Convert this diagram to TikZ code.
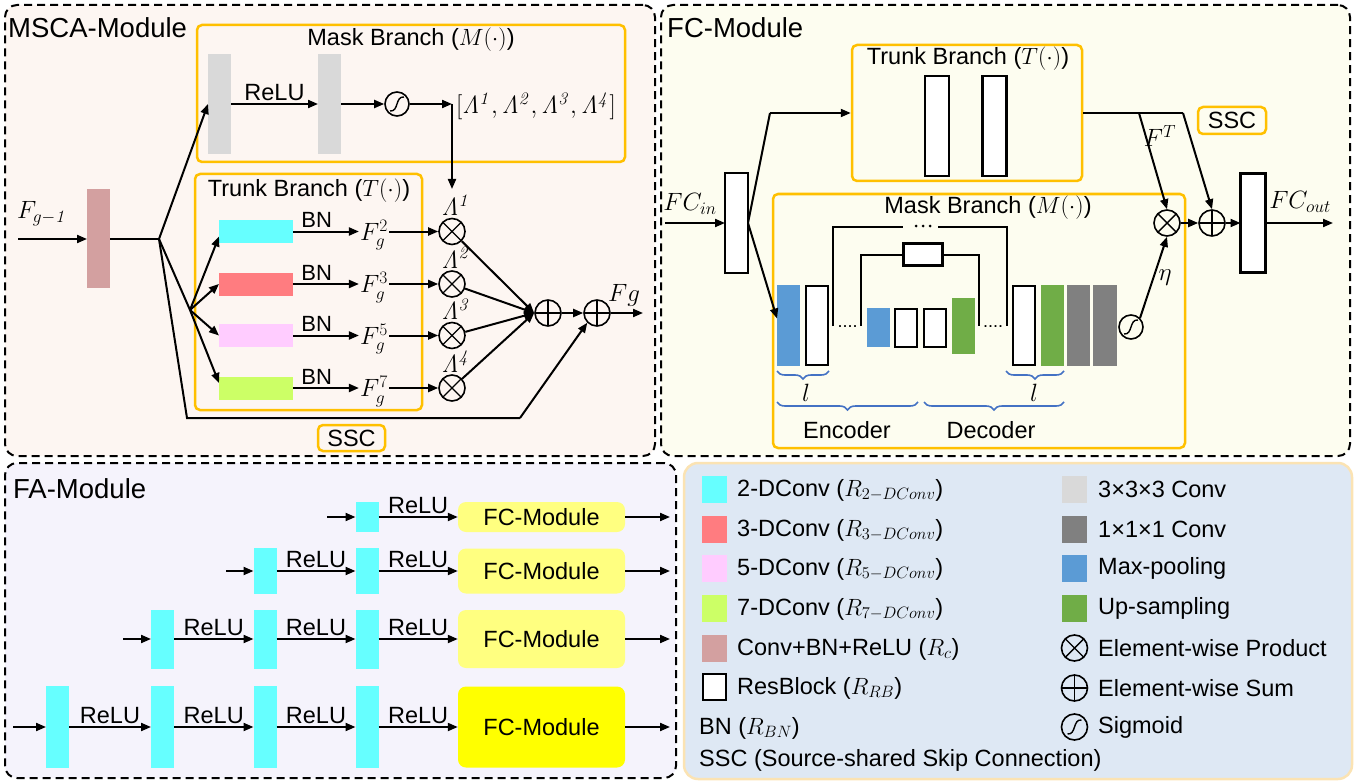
\documentclass[tikz,border=0pt]{standalone}
\usepackage{fix-cm}
\usepackage[no-math]{fontspec}
\setmainfont{Liberation Sans}
\usetikzlibrary{arrows.meta,decorations.pathreplacing,calc}
\definecolor{mscafill}{HTML}{FDF6F2}
\definecolor{fcfill}{HTML}{FDFDF0}
\definecolor{fafill}{HTML}{F5F3FC}
\definecolor{legfill}{HTML}{DEE8F4}
\definecolor{legdraw}{HTML}{FBE3B3}
\definecolor{orng}{HTML}{FFC000}
\definecolor{cyanc}{HTML}{66FFFF}
\definecolor{redc}{HTML}{FF7C80}
\definecolor{pinkc}{HTML}{FFCCFF}
\definecolor{limec}{HTML}{CCFF66}
\definecolor{brownc}{HTML}{D3A0A0}
\definecolor{lgray}{HTML}{D9D9D9}
\definecolor{dgray}{HTML}{808080}
\definecolor{bluec}{HTML}{5B9BD5}
\definecolor{greenc}{HTML}{70AD47}
\definecolor{lyel}{HTML}{FFFF80}
\definecolor{yel}{HTML}{FFFF00}
\definecolor{bracec}{HTML}{4472C4}
\tikzset{
  lw/.style={line width=2pt},
  arr/.style={line width=2pt,-{Triangle[length=10pt,width=8pt]}},
  tx/.style={font=\fontsize{23.5}{27}\selectfont, inner sep=2pt},
  bn/.style={font=\fontsize{22}{26}\selectfont, inner sep=3pt},
  mt/.style={font=\fontsize{25}{29}\selectfont, inner sep=1pt},
  ttl/.style={font=\fontsize{27.5}{31}\selectfont, inner sep=0pt},
  lt/.style={font=\fontsize{23.5}{27}\selectfont, inner sep=0pt},
  dbox/.style={draw, line width=2pt, dash pattern=on 8pt off 5pt, rounded corners=12pt, inner sep=0pt},
  legbox/.style={draw=legdraw, fill=legfill, line width=2.5pt, rounded corners=14pt, inner sep=0pt},
  obox/.style={draw=orng, line width=2.5pt, rounded corners=5pt, inner sep=0pt},
  blk/.style={rectangle, inner sep=0pt, outer sep=0pt},
  wblk/.style={blk, draw, line width=2.2pt, fill=white},
  fcb/.style={rectangle, rounded corners=8pt, inner sep=0pt, font=\fontsize{23.5}{27}\selectfont},
  prod/.style={circle, draw, line width=1.6pt, minimum size=26pt, inner sep=0pt,
    path picture={\draw[line width=1.4pt] (path picture bounding box.north west) -- (path picture bounding box.south east) (path picture bounding box.north east) -- (path picture bounding box.south west);}},
  summ/.style={circle, draw, line width=1.6pt, minimum size=26pt, inner sep=0pt,
    path picture={\draw[line width=1.4pt] (path picture bounding box.north) -- (path picture bounding box.south) (path picture bounding box.east) -- (path picture bounding box.west);}},
  sigm/.style={circle, draw, line width=1.6pt, minimum size=24pt, inner sep=0pt,
    path picture={\draw[line width=1.4pt] ([xshift=-7pt,yshift=-7pt]path picture bounding box.center) .. controls ([xshift=2pt,yshift=-8pt]path picture bounding box.center) and ([xshift=-2pt,yshift=8pt]path picture bounding box.center) .. ([xshift=7pt,yshift=7pt]path picture bounding box.center);}},
  brc/.style={decorate, decoration={brace, mirror, amplitude=8pt}, draw=bracec, line width=1.6pt},
}
\newcommand{\Lm}[1]{\mathit{\Lambda}^{\mathit{#1}}}
\begin{document}
\begin{tikzpicture}[x=1pt,y=-1pt]
\useasboundingbox (0,0) rectangle (1358,781);
% ===== frames =====
\node[dbox, fill=mscafill, minimum width=650pt, minimum height=451pt] (msca) at (330,230.5) {};
\node[dbox, fill=fcfill, minimum width=689pt, minimum height=451pt] (fcm) at (1005.5,230.5) {};
\node[dbox, fill=fafill, minimum width=671pt, minimum height=315pt] (fam) at (340.5,620.5) {};
\node[legbox, minimum width=668pt, minimum height=316pt] (leg) at (1018,621) {};
\node[ttl, anchor=west] (mscat) at (8,28) {MSCA-Module};
\node[ttl, anchor=west] (fct) at (667,28) {FC-Module};
\node[ttl, anchor=west] (fat) at (13,489) {FA-Module};

% ===== MSCA: mask branch =====
\node[obox, minimum width=428pt, minimum height=137pt] (mb) at (411,93.5) {};
\node[tx] (mbt) at (411,40) {Mask Branch ($M(\cdot)$)};
\node[blk, fill=lgray, minimum width=23pt, minimum height=100pt] (g1) at (219.5,104) {};
\node[blk, fill=lgray, minimum width=23pt, minimum height=100pt] (g2) at (329.5,104) {};
\draw[arr] (g1.east) -- node[tx, above] (relu0) {ReLU} (g2.west);
\node[sigm] (sg1) at (397,104) {};
\draw[arr] (g2.east) -- (sg1.west);
\coordinate (lc) at (452,104);
\coordinate (lt) at (452,189);
\draw[arr] (sg1.east) -- (lc);
\draw[arr] (lc) -- (lt);
\node[mt, anchor=west, inner sep=0pt] (lam) at (456,106) {$[\Lm{1}, \Lm{2}, \Lm{3}, \Lm{4}]$};

% ===== MSCA: trunk branch =====
\node[obox, minimum width=227pt, minimum height=236pt] (tb) at (308.5,292) {};
\node[tx] (tbt) at (309,191) {Trunk Branch ($T(\cdot)$)};
\node[blk, fill=cyanc, minimum width=74pt, minimum height=23pt] (c2) at (256,231.5) {};
\node[blk, fill=redc, minimum width=74pt, minimum height=23pt] (c3) at (256,284) {};
\node[blk, fill=pinkc, minimum width=74pt, minimum height=23pt] (c5) at (256,335.5) {};
\node[blk, fill=limec, minimum width=74pt, minimum height=23pt] (c7) at (256,388) {};
\node[mt] (f2) at (374,235) {$F_g^2$};
\node[mt] (f3) at (374,287.5) {$F_g^3$};
\node[mt] (f5) at (374,339) {$F_g^5$};
\node[mt] (f7) at (374,391.5) {$F_g^7$};
\node[prod] (p1) at (452,231.5) {};
\node[prod] (p2) at (452,284) {};
\node[prod] (p3) at (452,335.5) {};
\node[prod] (p4) at (452,388) {};
\foreach \c/\f/\p in {c2/f2/p1, c3/f3/p2, c5/f5/p3, c7/f7/p4}{
  \draw[arr] (\c.east) -- node[bn, above, pos=0.36] {BN} (\c.east -| \f.west);
  \draw[arr] (\f.east |- \c.east) -- (\p.west);
}
\foreach \p/\k in {p1/1, p2/2, p3/3, p4/4}{
  \node[mt, anchor=south, inner sep=0pt, xshift=4pt, yshift=2pt] (L\k) at (\p.north) {$\Lm{\k}$};
}

% ===== MSCA: input and branching =====
\node[mt] (fgm) at (42,214) {$F_{g-\mathit{1}}$};
\coordinate (in0) at (18,239);
\node[blk, fill=brownc, minimum width=23pt, minimum height=99pt] (rc) at (98.5,238.5) {};
\draw[arr] (in0) -- (rc.west |- in0);
\coordinate (b0) at (159,239);
\coordinate (b1) at (190,310);
\coordinate (sa) at (187,418);
\coordinate (sb) at (520,418);
\draw[lw] (rc.east |- b0) -- (b0);
\draw[arr] (b0) -- (g1.west);
\draw[lw] (b0) -- (b1);
\draw[arr] (b1) -- ([yshift=-5pt]c2.west);
\draw[arr] (b1) -- (c3.west);
\draw[arr] (b1) -- (c5.west);
\draw[arr] (b1) -- ([yshift=5pt]c7.west);
\node[summ] (s1) at (548,313) {};
\node[summ] (s2) at (597,313) {};
\foreach \p in {p1,p2,p3,p4}{ \draw[arr] (\p) -- (s1.west); }
\draw[arr] (s1) -- (s2);
\draw[lw] (b0) -- (sa) -- (sb);
\draw[arr] (sb) -- (s2.south west);
\coordinate (fgo) at (643,313);
\draw[arr] (s2.east) -- (fgo);
\node[mt] (fgl) at (624,295) {$Fg$};
\node[obox, tx, minimum width=67pt, minimum height=26pt] (ssc1) at (351.5,438) {SSC};

% ===== FC module =====
\node[mt] (fcinl) at (690,204) {$FC_{in}$};
\coordinate (fci) at (665,223);
\node[wblk, minimum width=23pt, minimum height=100pt] (fr1) at (736.5,223) {};
\draw[arr] (fci) -- (fr1.west);
\node[obox, minimum width=230pt, minimum height=136pt] (ftb) at (967,113) {};
\node[tx] (ftbt) at (968,59) {Trunk Branch ($T(\cdot)$)};
\node[wblk, minimum width=24pt, minimum height=100pt] (tr1) at (937,126) {};
\node[wblk, minimum width=24pt, minimum height=100pt] (tr2) at (994.5,126) {};
\coordinate (fu) at (770,113);
\draw[lw] (fr1.east) -- (fu);
\draw[arr] (fu) -- (ftb.west);
\node[obox, minimum width=412pt, minimum height=254pt] (fmb) at (979,321) {};
\node[tx] (fmbt) at (988,208) {Mask Branch ($M(\cdot)$)};
% encoder-decoder
\node[blk, fill=bluec, minimum width=23pt, minimum height=81pt] (bl1) at (788.5,325.5) {};
\node[wblk, minimum width=22pt, minimum height=79pt] (wr1) at (817,325.5) {};
\node[blk, fill=bluec, minimum width=23pt, minimum height=39pt] (bl2) at (878.5,327.5) {};
\node[wblk, minimum width=22pt, minimum height=38pt] (wr2) at (906,328) {};
\node[wblk, minimum width=22pt, minimum height=38pt] (wr3) at (935,328) {};
\node[blk, fill=greenc, minimum width=23pt, minimum height=56pt] (gr2) at (963.5,326) {};
\node[wblk, minimum width=22pt, minimum height=79pt] (wr4) at (1024,325.5) {};
\node[blk, fill=greenc, minimum width=23pt, minimum height=81pt] (gr1) at (1052.5,325.5) {};
\node[blk, fill=dgray, minimum width=23pt, minimum height=81pt] (dg1) at (1078.5,325.5) {};
\node[blk, fill=dgray, minimum width=24pt, minimum height=81pt] (dg2) at (1105,325.5) {};
\node[sigm] (sg2) at (1131,327) {};
\draw[arr] (fr1.east) -- ([yshift=7pt]bl1.west);
% skip connections
\node[wblk, minimum width=39pt, minimum height=22pt] (rb) at (923,254.5) {};
\draw[lw] (833,326) -- (833,227) -- (903,227);
\draw[lw] (938,227) -- (1007,227) -- (1007,326);
\foreach \dx in {916,923,930}{ \fill (\dx,226) circle (1.5pt); }
\draw[lw] (861,326) -- (861,254.5) -- (rb.west);
\draw[lw] (rb.east) -- (979,254.5) -- (979,326);
\node[font=\fontsize{18}{18}\selectfont, inner sep=0pt, anchor=base] (dl) at (847.5,327) {....};
\node[font=\fontsize{18}{18}\selectfont, inner sep=0pt, anchor=base] (dr) at (993,327) {....};
% braces
\draw[brc] (777,371) -- (829,371);
\draw[brc] (1006,371) -- (1064,371);
\draw[brc] (777,402) -- (918,402);
\draw[brc] (924,402) -- (1064,402);
\node[mt] (le) at (806,393) {$l$};
\node[mt] (ld) at (1034,393) {$l$};
\node[tx] (enc) at (847,430) {Encoder};
\node[tx] (dec) at (991,430) {Decoder};
% merge
\node[prod] (fcp) at (1167,223) {};
\node[summ] (fcs) at (1212,223) {};
\coordinate (t1) at (1139,113);
\coordinate (t2) at (1183,113);
\draw[lw] (ftb.east) -- (t2);
\draw[arr] (t1) -- (fcp.north);
\draw[arr] (t2) -- (fcs.north);
\node[mt] (ftl) at (1160,136) {$F^T$};
\node[obox, tx, minimum width=68pt, minimum height=27pt] (ssc2) at (1232,120.5) {SSC};
\draw[arr] (sg2.north east) -- node[mt, right, inner sep=4pt] (eta) {$\eta$} (fcp.south);
\draw[arr] (fcp) -- (fcs);
\node[wblk, minimum width=25pt, minimum height=99pt] (fr2) at (1253,223) {};
\draw[arr] (fcs) -- (fr2.west);
\coordinate (fco) at (1333,223);
\draw[arr] (fr2.east) -- (fco);
\node[mt] (fcol) at (1300,202) {$FC_{out}$};

% ===== FA module =====
% row 1
\coordinate (i1) at (327,517);
\node[blk, fill=cyanc, minimum width=23pt, minimum height=30pt] (a14) at (367,517) {};
\node[fcb, fill=lyel, minimum width=167pt, minimum height=30pt] (fc1) at (541.5,517) {FC-Module};
\draw[arr] (i1) -- (a14.west);
\draw[arr] (a14.east) -- node[tx, above] {ReLU} (fc1.west);
\coordinate (o1) at (670,517);
\draw[arr] (fc1.east) -- (o1);
% row 2
\coordinate (i2) at (226,571);
\node[blk, fill=cyanc, minimum width=23pt, minimum height=46pt] (a23) at (265,571) {};
\node[blk, fill=cyanc, minimum width=23pt, minimum height=46pt] (a24) at (367,571) {};
\node[fcb, fill=lyel, minimum width=167pt, minimum height=45pt] (fc2) at (541.5,571) {FC-Module};
\draw[arr] (i2) -- (a23.west);
\draw[arr] (a23.east) -- node[tx, above] {ReLU} (a24.west);
\draw[arr] (a24.east) -- node[tx, above] {ReLU} (fc2.west);
\coordinate (o2) at (670,571);
\draw[arr] (fc2.east) -- (o2);
% row 3
\coordinate (i3) at (123,639);
\node[blk, fill=cyanc, minimum width=23pt, minimum height=59pt] (a32) at (162.5,639) {};
\node[blk, fill=cyanc, minimum width=23pt, minimum height=59pt] (a33) at (265,639) {};
\node[blk, fill=cyanc, minimum width=23pt, minimum height=59pt] (a34) at (367,639) {};
\node[fcb, fill=lyel, minimum width=167pt, minimum height=58pt] (fc3) at (541.5,639) {FC-Module};
\draw[arr] (i3) -- (a32.west);
\draw[arr] (a32.east) -- node[tx, above] {ReLU} (a33.west);
\draw[arr] (a33.east) -- node[tx, above] {ReLU} (a34.west);
\draw[arr] (a34.east) -- node[tx, above] {ReLU} (fc3.west);
\coordinate (o3) at (670,639);
\draw[arr] (fc3.east) -- (o3);
% row 4
\coordinate (i4) at (13,727);
\node[blk, fill=cyanc, minimum width=23pt, minimum height=82pt] (a41) at (57.5,727) {};
\node[blk, fill=cyanc, minimum width=23pt, minimum height=82pt] (a42) at (162.5,727) {};
\node[blk, fill=cyanc, minimum width=23pt, minimum height=82pt] (a43) at (265,727) {};
\node[blk, fill=cyanc, minimum width=23pt, minimum height=82pt] (a44) at (367,727) {};
\node[fcb, fill=yel, minimum width=167pt, minimum height=81pt] (fc4) at (541.5,727) {FC-Module};
\draw[arr] (i4) -- (a41.west);
\draw[arr] (a41.east) -- node[tx, above] {ReLU} (a42.west);
\draw[arr] (a42.east) -- node[tx, above] {ReLU} (a43.west);
\draw[arr] (a43.east) -- node[tx, above] {ReLU} (a44.west);
\draw[arr] (a44.east) -- node[tx, above] {ReLU} (fc4.west);
\coordinate (o4) at (670,727);
\draw[arr] (fc4.east) -- (o4);

% ===== legend =====
\node[blk, fill=cyanc, minimum width=25pt, minimum height=27pt] (k1) at (714.5,489) {};
\node[blk, fill=redc, minimum width=25pt, minimum height=27pt] (k2) at (714.5,529) {};
\node[blk, fill=pinkc, minimum width=25pt, minimum height=27pt] (k3) at (714.5,568) {};
\node[blk, fill=limec, minimum width=25pt, minimum height=27pt] (k4) at (714.5,608) {};
\node[blk, fill=brownc, minimum width=25pt, minimum height=27pt] (k5) at (714.5,648) {};
\node[wblk, minimum width=23pt, minimum height=26pt, line width=2.6pt] (k6) at (714.5,687) {};
\node[lt, anchor=west] (kt1) at (737,490) {2-DConv ($R_{2-DConv}$)};
\node[lt, anchor=west] (kt2) at (737,530) {3-DConv ($R_{3-DConv}$)};
\node[lt, anchor=west] (kt3) at (737,569) {5-DConv ($R_{5-DConv}$)};
\node[lt, anchor=west] (kt4) at (737,609) {7-DConv ($R_{7-DConv}$)};
\node[lt, anchor=west] (kt5) at (737,649) {Conv+BN+ReLU ($R_c$)};
\node[lt, anchor=west] (kt6) at (737,688) {ResBlock ($R_{RB}$)};
\node[lt, anchor=west] (kt7) at (699,728) {BN ($R_{BN}$)};
\node[lt, anchor=west] (kt8) at (699,760) {SSC (Source-shared Skip Connection)};
\node[blk, fill=lgray, minimum width=25pt, minimum height=27pt] (k9) at (1074.5,489) {};
\node[blk, fill=dgray, minimum width=25pt, minimum height=27pt] (k10) at (1074.5,529) {};
\node[blk, fill=bluec, minimum width=25pt, minimum height=27pt] (k11) at (1074.5,568) {};
\node[blk, fill=greenc, minimum width=25pt, minimum height=27pt] (k12) at (1074.5,608) {};
\node[prod] (k13) at (1074.5,648) {};
\node[summ] (k14) at (1074.5,688) {};
\node[sigm, minimum size=26pt] (k15) at (1074.5,727) {};
\node[lt, anchor=west] (kt9) at (1098,489) {3×3×3 Conv};
\node[lt, anchor=west] (kt10) at (1098,529) {1×1×1 Conv};
\node[lt, anchor=west] (kt11) at (1098,568) {Max-pooling};
\node[lt, anchor=west] (kt12) at (1098,608) {Up-sampling};
\node[lt, anchor=west] (kt13) at (1098,648) {Element-wise Product};
\node[lt, anchor=west] (kt14) at (1098,688) {Element-wise Sum};
\node[lt, anchor=west] (kt15) at (1098,727) {Sigmoid};
\end{tikzpicture}
\end{document}
